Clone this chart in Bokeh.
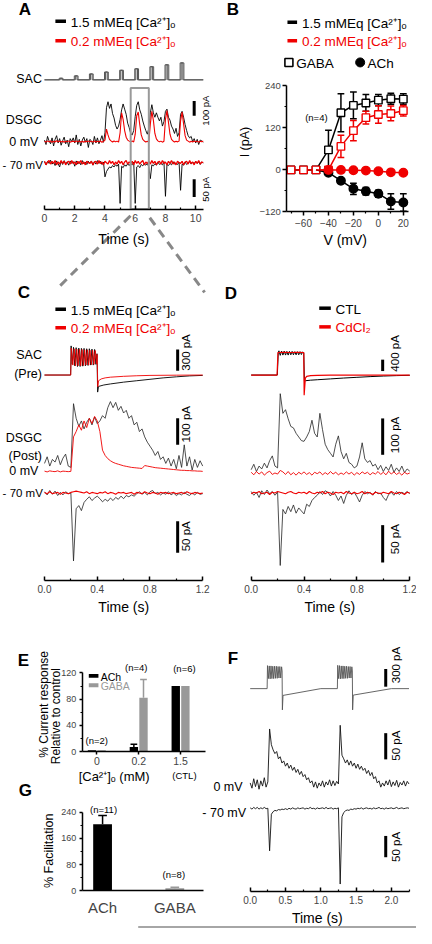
import numpy as np
from bokeh.plotting import figure
from bokeh.models import Range1d, LinearAxis, FixedTicker, Label, PrintfTickFormatter
from bokeh.embed import file_html
from bokeh.resources import INLINE

# ======================= DATA =======================
# ---- Panel A : 0-10.5 s, sampled every 0.1 s (pA) ----
A_pulse_times = [1, 2, 3, 4, 5, 6, 7, 8, 9]
A_sac_amp = [55, 135, 200, 265, 325, 375, 445, 510, 575]
A_0mV_ctl = [10, -20, 35, 5, -15, 25, -30, 15, 40, -10,
             20, -25, 5, 30, -15, 10, -35, 20, 0, 25,
             -10, 45, -20, 15, -30, 10, 30, -5, 20, -40,
             15, 5, -20, 35, -10, 25, -15, 10, 40, -5,
             60, 230, 270, 225, 255, 190, 160, 110, 85, 105,
             150, 215, 255, 220, 185, 125, 95, 55, 45, 75,
             170, 245, 270, 215, 185, 140, 105, 75, 50, 90,
             195, 250, 195, 165, 195, 165, 140, 165, 105, 135,
             205, 220, 165, 145, 105, 85, 55, 90, 35, 60,
             185, 205, 165, 115, 75, 40, 25, 35, 0, 20,
             -10, 15, -20, 10, 5, -5]
A_0mV_low = [3, -4, 5, -2, 4, -5, 2, -3, 6, -1,
             4, -3, 2, -5, 3, -2, 5, -4, 1, 3,
             -3, 5, -2, 4, -4, 2, -5, 3, -1, 4,
             -2, 3, -4, 5, -3, 2, -1, 4, -5, 2,
             10, 85, 45, 15, 5, -3, 4, -2, 3, -4,
             60, 195, 150, 75, 30, 10, 3, -2, 4, -3,
             50, 175, 200, 115, 45, 15, 4, -3, 2, -4,
             120, 205, 145, 55, 18, 5, -2, 3, -4, 2,
             150, 210, 130, 50, 15, 4, -3, 2, -2, 3,
             140, 200, 120, 40, 10, 3, -4, 2, -3, 4,
             -2, 3, -4, 2, -1, 3]
A_70mV_ctl = [3, -6, 4, -2, 7, -4, 2, -8, 5, -3,
              -12, 4, -5, 6, -3, 2, -7, 5, -2, 3,
              -10, 5, -4, 3, -6, 6, -3, 2, -5, 4,
              -2, 5, -7, 3, -4, 6, -2, 4, -5, 2,
              -40, -25, -18, -12, -15, -8, -12, -6, -10, -4,
              -115, -10, -14, -6, -10, -3, -8, -2, -6, 2,
              -115, -12, -8, -14, -5, -9, -3, -7, -2, -12,
              -45, -6, -9, -3, -7, 2, -5, -2, -6, 3,
              -95, -5, -8, -2, -6, 3, -4, -1, -5, 2,
              -78, -4, -7, 2, -5, -1, 3, -4, 2, -3,
              4, -2, 3, -5, 2, -1]
A_70mV_low = [4, -6, 2, 6, -4, 4, -2, 6, -6, 2,
              -4, 6, -2, 4, -6, 2, 4, -4, 6, -2,
              2, -6, 4, -2, 6, -4, 2, -6, 4, 0,
              -2, 4, -6, 2, 4, -4, 6, -2, 2, -6,
              4, 0, -4, 6, -2, 4, -6, 2, -4, 6,
              -2, 4, -6, 2, 6, -4, 2, -2, 4, -6,
              6, -2, 4, -4, 2, 6, -6, 2, -2, 4,
              -4, 6, -2, 4, -6, 2, 4, -4, 6, -2,
              2, -6, 4, -2, 6, -4, 2, -6, 4, 0,
              -2, 4, -6, 2, 4, -4, 6, -2, 2, -6,
              4, -2, 6, -4, 2, 0]
A_zoom_window = [5.7, 6.9]

# ---- Panel B : I-V relations ----
B_V = [-70, -60, -50, -40, -30, -20, -10, 0, 10, 20]
B_gaba_ctl = [0, 0, 0, 57, 163, 184, 191, 199, 203, 202]
B_gaba_ctl_err = [0, 0, 0, 56, 54, 38, 24, 16, 16, 15]
B_gaba_low = [0, 0, 0, 0, 67, 112, 149, 158, 161, 169]
B_gaba_low_err = [0, 0, 0, 0, 32, 29, 18, 25, 21, 15]
B_ach_V = [-50, -40, -30, -20, -10, 0, 10, 20]
B_ach_ctl = [0, -8, -31, -54, -61, -68, -90, -93]
B_ach_ctl_err = [0, 5, 6, 16, 11, 10, 22, 25]
B_ach_low = [0, 0, 0, -1, -2, -4, -7, -8]
B_ach_low_err = [0, 2, 2, 2, 2, 2, 2, 3]

# ---- Panel C : 0-1.2 s, DSGC sampled every 0.02 s ----
C_sac_t_ctl = [0.0, 0.198, 0.202, 0.21, 0.22, 0.23, 0.24, 0.25, 0.26, 0.27, 0.28, 0.29, 0.30,
               0.31, 0.32, 0.33, 0.34, 0.35, 0.36, 0.37, 0.38, 0.39, 0.398, 0.403,
               0.41, 0.45, 0.5, 0.6, 0.7, 0.8, 0.9, 1.0, 1.1, 1.2]
C_sac_v_ctl = [0, 0, 410, 150, 390, 130, 385, 120, 380, 120, 375, 125, 375, 130, 370, 135,
               370, 140, 365, 140, 360, 150, 300, -240,
               -160, -140, -125, -100, -80, -60, -40, -25, -12, -5]
C_sac_t_low = [0.0, 0.199, 0.203, 0.215, 0.225, 0.235, 0.245, 0.255, 0.265, 0.275, 0.285,
               0.295, 0.305, 0.315, 0.325, 0.335, 0.345, 0.355, 0.365, 0.375, 0.385, 0.395,
               0.399, 0.404, 0.41, 0.43, 0.46, 0.5, 0.6, 0.7, 0.8, 1.0, 1.2]
C_sac_v_low = [0, 0, 380, 140, 370, 130, 365, 130, 360, 130, 360, 135, 355, 140, 355, 140,
               350, 145, 350, 150, 345, 155,
               290, -165, -80, -55, -40, -30, -18, -10, -5, -2, 0]
C_0mV_ctl = [30, 55, 20, 45, 35, 60, 25, 50, 65, 20,
             15, 255, 200, 170, 190, 160, 185, 200, 175, 205,
             180, 190, 210, 200, 240, 263, 240, 260, 230, 245,
             220, 230, 200, 210, 175, 185, 150, 160, 130, 110,
             95, 80, 60, 75, 45, 55, 30, 50, 20, 45,
             10, 60, 15, 100, 20, 55, 5, 45, 15, 40, 20]
C_0mV_low = [1, -2, 2, 0, -1, 2, -2, 1, 0, -1,
             0, 130, 150, 175, 155, 190, 165, 200, 180, 207,
             190, 150, 80, 60, 48, 40, 34, 30, 27, 24,
             21, 19, 17, 15, 14, 13, 12, 11, 22, 20,
             18, 16, 14, 13, 12, 11, 10, 9, 8, 7,
             6, 5, 4, 4, 3, 3, 2, 2, 1, 1, 0]
C_70mV_ctl = [2, -3, 4, -2, 3, -4, 1, -3, 2, -1,
              0, -108, -25, -20, -28, -15, -10, -6, -12, -8,
              -5, -9, -14, -10, -13, -8, -12, -7, -10, -5,
              -9, -4, -6, -3, -5, -1, 2, -2, 1, -3,
              2, 4, -1, 1, -3, 0, -2, 2, -3, 0,
              -4, -1, -3, 1, -2, -4, 0, -3, 1, -2, -1]
C_70mV_low = [1, -1, 2, -1, 0, 1, -2, 1, 0, -1,
              1, 2, 3, 2, 1, 0, 2, -1, 1, 0,
              -1, 1, 0, 2, -1, 1, 0, -2, 1, 0,
              1, -1, 0, 1, -2, 1, 0, -1, 2, 0,
              -1, 1, 0, -2, 1, 0, 1, -1, 0, 1,
              -1, 0, 1, -1, 2, 0, -1, 1, 0, -1, 0]

# ---- Panel D : control vs CdCl2 ----
D_sac_t_ctl = [0.0, 0.198, 0.205, 0.21, 0.22, 0.23, 0.24, 0.25, 0.26, 0.27, 0.28, 0.29, 0.30,
               0.31, 0.32, 0.33, 0.34, 0.35, 0.36, 0.37, 0.38, 0.39, 0.398, 0.403,
               0.41, 0.45, 0.5, 0.6, 0.7, 0.8, 0.9, 1.0, 1.1, 1.2]
D_sac_v_ctl = [0, 0, 780, 850, 690, 840, 700, 840, 700, 830, 700, 830, 710, 830, 710, 820,
               710, 820, 710, 820, 720, 810, 780, -220,
               -200, -180, -165, -135, -105, -80, -55, -35, -20, -10]
D_sac_t_cd = [0.0, 0.196, 0.203, 0.25, 0.3, 0.35, 0.398, 0.401, 0.41, 0.42, 0.45, 0.5, 0.6, 0.8, 1.2]
D_sac_v_cd = [0, 0, 790, 800, 790, 800, 790, -710, -110, -45, -20, -10, -5, -2, 0]
D_0mV_ctl = [10, 25, 5, 20, 12, 28, 15, 35, 48, 20,
             15, 219, 165, 175, 150, 129, 125, 110, 100, 90,
             88, 100, 115, 146, 110, 100, 165, 120, 80, 65,
             55, 45, 80, 103, 60, 40, 55, 30, 25, 15,
             20, 45, 84, 40, 30, 35, 20, 25, 10, 22,
             5, 18, 8, 25, 3, 15, 5, 20, 2, 12, 6]
D_0mV_cd = [3, -4, 5, -2, 4, -5, 2, 6, -3, 1,
            -2, 8, 4, -3, 5, -4, 2, -5, 3, -2,
            4, -3, 2, -5, 3, -1, 4, -4, 2, -3,
            5, -2, 3, -4, 1, -3, 4, -2, 3, -5,
            2, -3, 4, -1, 3, -4, 2, -2, 5, -3,
            3, -4, 6, -2, 4, -3, 2, -5, 3, -2, 1]
D_70mV_ctl = [2, -3, 1, -6, 3, -2, 4, -1, 2, -3,
              1, -97, -22, -28, -18, -25, -16, -27, -20, -24,
              -28, -15, -18, -10, -6, -3, 2, -2, 3, 1,
              -4, 2, -3, -10, -4, -14, -3, 3, -2, 1,
              -5, -12, -3, 2, -1, 1, -3, 2, -1, 0,
              -6, -10, -2, 1, -3, 2, -2, 1, -1, 2, -1]
D_70mV_cd = [-1, 1, 0, 2, -1, 0, 1, -2, 1, 0,
             2, 1, 0, -1, 1, 2, 0, -1, 1, 0,
             1, -1, 2, 0, -1, 1, 0, 2, -1, 1,
             0, -2, 1, 0, 1, -1, 2, 0, -1, 1,
             -1, 0, 2, -1, 1, 0, -2, 1, 0, -1,
             1, 0, -1, 2, 0, -1, 1, 0, -2, 1, 0]

# ---- Panel E : % current response relative to control ----
E_conc_labels = ["0", "0.2", "1.5"]
E_ach = [2, 7, 100]
E_ach_err = [0, 4, 0]
E_gaba = [2, 82, 100]
E_gaba_err = [0, 28, 0]
E_n = ["(n=2)", "(n=4)", "(n=6)"]

# ---- Panel G : % facilitation ----
G_labels = ["ACh", "GABA"]
G_fac = [203, 8]
G_err = [27, 3]
G_n = ["(n=11)", "(n=8)"]

# ---- Panel F : paired stimulation, 0-2.25 s, DSGC sampled every 0.025 s ----
F_sac_t = [0.0, 0.24, 0.245, 0.2575, 0.27, 0.2825, 0.295, 0.3075, 0.32, 0.3325, 0.345, 0.3575,
           0.37, 0.3825, 0.395, 0.4075, 0.42, 0.4325, 0.445, 0.452, 0.456, 0.465, 1.0,
           1.235, 1.24, 1.2525, 1.265, 1.2775, 1.29, 1.3025, 1.315, 1.3275, 1.34, 1.3525,
           1.365, 1.3775, 1.39, 1.4025, 1.415, 1.4275, 1.44, 1.447, 1.451, 1.46, 2.0, 2.25]
F_sac_v = [0, 0, 390, 170, 385, 165, 385, 170, 380, 170, 380, 175, 380, 175, 375, 180, 375,
           180, 370, 300, -360, -115, 0,
           0, 395, 170, 390, 165, 385, 170, 385, 170, 380, 175, 380, 175, 375, 180, 375,
           180, 370, 300, -360, -110, 0, 0]
F_0mV = [2, -8, 10, -5, 8, -10, 6, -4, 12, -6,
         4, 105, 75, 65, 58, 62, 48, 52, 40, 44,
         34, 40, 30, 36, 26, 32, 22, 28, 18, 24,
         14, 18, 8, 12, 2, 6, -6, 4, -8, 2,
         -4, 6, -6, 4, -2, 8, -4, 6, -3, 5,
         0, 112, 55, 48, 40, 46, 36, 44, 34, 40,
         30, 38, 28, 34, 26, 30, 20, 26, 16, 22,
         10, 14, 2, 6, -6, 2, -4, 6, -2, 8,
         -5, 4, -3, 7, -6, 3, -2, 6, -4, 5, 0]
F_70mV = [1, -2, 2, -1, 2, -2, 1, -1, 2, -1,
          0, -100, -14, -8, -5, -6, -3, -4, -2, -3,
          -1, -3, 0, -2, 1, -1, -2, 1, -1, 0,
          1, -2, 0, -1, 2, -1, 0, -2, 1, -1,
          0, 1, -1, 2, -1, 0, 1, -2, 0, -1,
          1, -178, -20, -10, -6, -4, -5, -2, -3, -1,
          -2, 0, -1, 1, -2, 0, 1, -1, 0, -2,
          1, -1, 0, 2, -1, 0, -2, 1, -1, 0,
          1, -1, 0, 2, -1, 0, 1, -1, 0, 1, 0]

# ======================= FIGURE =======================
PAGE_W, PAGE_H = 432, 944
FONT = "Liberation Sans"
RED = "#f00000"
GRAY = "#999999"
DGRAY = "#555555"
LEG = 13.5   # legend font size
TRL = 12.5   # trace label font size

p = figure(width=416, height=928, x_range=Range1d(0, PAGE_W), y_range=Range1d(PAGE_H, 0),
           x_axis_type=None, y_axis_type=None, output_backend="svg",
           toolbar_location=None, min_border=0)
p.outline_line_color = None
p.background_fill_color = "white"
p.border_fill_color = "white"

xr, yr = {}, {}


def x_map(name, px0, sx):
    xr[name] = Range1d(-px0 / sx, (PAGE_W - px0) / sx)


def y_map(name, base, sy):
    yr[name] = Range1d((base - PAGE_H) / sy, base / sy)


# panel coordinate systems
x_map("A_x", 45.7, 15.7)
y_map("A_sac", 80.7, 0.03)
y_map("A_0", 143.5, 0.15)
y_map("A_70", 165.0, 0.36)
x_map("B_x", 392.4, 1.296)
y_map("B_y", 172.3, 0.3565)
x_map("C_x", 45.7, 136.9)
y_map("C_sac", 381.0, 0.0723)
y_map("C_0", 479.0, 0.27)
y_map("C_70", 501.0, 0.64)
x_map("D_x", 260.3, 137.25)
y_map("D_sac", 381.0, 0.029)
y_map("D_0", 481.0, 0.37)
y_map("D_70", 501.0, 0.76)
x_map("E_x", 100.0, 43.5)
y_map("E_y", 764.0, 0.6667)
x_map("G_x", 106.0, 75.0)
y_map("G_y", 905.7, 0.3333)
x_map("F_x", 259.3, 73.3)
y_map("F_sac", 700.0, 0.06)
y_map("F_0", 797.0, 0.533)
y_map("F_70", 821.7, 0.433)
p.extra_x_ranges = xr
p.extra_y_ranges = yr


def label(x, y, s, size=TRL, color="black", align="left", angle=0.0, bold=False):
    p.add_layout(Label(x=x, y=y, text=s, text_font=FONT, text_font_size=f"{size}px",
                       text_color=color, text_align=align, text_baseline="middle",
                       angle=angle, text_font_style="bold" if bold else "normal"))


def style_axis(ax, inward, maj, mnr, size, standoff):
    maj, mnr = int(maj), int(mnr)
    if inward:
        ax.major_tick_in, ax.major_tick_out, ax.minor_tick_in, ax.minor_tick_out = maj, 0, mnr, 0
    else:
        ax.major_tick_in, ax.major_tick_out, ax.minor_tick_in, ax.minor_tick_out = 0, maj, 0, mnr
    ax.axis_line_width = 1.5
    ax.major_tick_line_width = 1.5
    ax.minor_tick_line_width = 1.2
    ax.major_label_text_font = FONT
    ax.major_label_text_font_size = size
    ax.major_label_standoff = int(standoff)


def add_xaxis(xname, ypos, bounds, ticks, minor, inward=True, fmt=None, overrides=None,
              size="10px", maj=4, mnr=2, standoff=3):
    ax = LinearAxis(x_range_name=xname, fixed_location=ypos, bounds=bounds,
                    ticker=FixedTicker(ticks=ticks, minor_ticks=minor))
    style_axis(ax, inward, maj, mnr, size, standoff)
    if fmt:
        ax.formatter = PrintfTickFormatter(format=fmt)
    if overrides:
        ax.major_label_overrides = overrides
    p.add_layout(ax, "below")


def add_yaxis(yname, xpos, bounds, ticks, minor, size="9px", maj=4, mnr=2, standoff=3):
    ax = LinearAxis(y_range_name=yname, fixed_location=xpos, bounds=bounds,
                    ticker=FixedTicker(ticks=ticks, minor_ticks=minor))
    style_axis(ax, False, maj, mnr, size, standoff)
    p.add_layout(ax, "left")


def trace(t, v, xn, yn, color, lw=0.9):
    p.line(list(t), list(v), x_range_name=xn, y_range_name=yn, line_color=color, line_width=lw)


def grid(values, dt):
    return np.round(np.arange(len(values)) * dt, 4)


def scalebar(xn, yn, t, lo, hi):
    p.line([t, t], [lo, hi], x_range_name=xn, y_range_name=yn, line_color="black", line_width=3)


def pulse_train(times, amps, t_on, t_off, t_end):
    t, v = [0.0], [0.0]
    for tm, a in zip(times, amps):
        t += [tm + t_on, tm + t_on, tm + t_off, tm + t_off]
        v += [0, a, a, 0]
    t.append(t_end)
    v.append(0)
    return t, v


# ---------------- Panel A ----------------
label(19, 9, "A", size=17, bold=True)
p.line([57, 68], [21, 21], line_color="black", line_width=3.5)
p.line([57, 68], [41, 41], line_color=RED, line_width=3.5)
label(73, 22, "1.5 mMEq [Ca²⁺]ₒ", size=LEG)
label(73, 42, "0.2 mMEq [Ca²⁺]ₒ", size=LEG, color=RED)
label(43, 80, "SAC", align="right")
label(43, 122, "DSGC", align="right")
label(43, 143.5, "0  mV", align="right")
label(44, 167, "- 70 mV", size=11.5, align="right")

st, sv = pulse_train(A_pulse_times, A_sac_amp, -0.03, 0.15, 10.5)
trace(st, sv, "A_x", "A_sac", DGRAY, 1)
st2, sv2 = pulse_train(A_pulse_times, A_sac_amp, 0.04, 0.22, 10.5)
trace(st2, sv2, "A_x", "A_sac", DGRAY, 1)
trace(grid(A_0mV_ctl, 0.1), A_0mV_ctl, "A_x", "A_0", "black", 0.9)
trace(grid(A_0mV_low, 0.1), A_0mV_low, "A_x", "A_0", RED, 1.1)
trace(grid(A_70mV_ctl, 0.1), A_70mV_ctl, "A_x", "A_70", "black", 0.9)
trace(grid(A_70mV_low, 0.1), A_70mV_low, "A_x", "A_70", RED, 1.3)
p.quad(left=[A_zoom_window[0]], right=[A_zoom_window[1]], top=[89], bottom=[212],
       x_range_name="A_x", fill_color=None, line_color=GRAY, line_width=2)
scalebar("A_x", "A_0", 9.9, 175, 275)
scalebar("A_x", "A_70", 9.9, -97, -47)
label(213, 112, "100 pA", size=9.5, align="center", angle=np.pi / 2)
label(213, 192, "50 pA", size=9.5, align="center", angle=np.pi / 2)
add_xaxis("A_x", 213, (0, 10.5), [0, 2, 4, 6, 8, 10], [1, 3, 5, 7, 9], size="10.5px", standoff=4)
label(128, 243, "Time (s)", size=14, align="center")

# zoom connectors
p.line([135, 60], [219, 292], line_color="#888888", line_width=3, line_dash="9 6")
p.line([155, 212], [221, 297], line_color="#888888", line_width=3, line_dash="9 6")

# ---------------- Panel B ----------------
label(235, 9, "B", size=17, bold=True)
p.line([298, 308], [22, 22], line_color="black", line_width=3.5)
p.line([298, 308], [41, 41], line_color=RED, line_width=3.5)
label(313, 23, "1.5 mMEq [Ca²⁺]ₒ", size=LEG)
label(313, 42, "0.2 mMEq [Ca²⁺]ₒ", size=LEG, color=RED)
p.scatter([299.5], [63], marker="square", size=8, fill_color="white", line_color="black", line_width=1.6)
label(307, 64, "GABA", size=LEG)
p.scatter([373.5], [63], marker="circle", size=9, fill_color="black", line_color="black")
label(381, 64, "ACh", size=LEG)


def iv_series(V, I, err, color, marker, fill, idx_from=0):
    V = np.array(V, float)
    I = np.array(I, float)
    err = np.array(err, float)
    m = err > 0
    p.segment(V[m], I[m] - err[m], V[m], I[m] + err[m], x_range_name="B_x", y_range_name="B_y",
              line_color=color, line_width=1.5)
    for sgn in (1, -1):
        p.segment(V[m] - 2.7, I[m] + sgn * err[m], V[m] + 2.7, I[m] + sgn * err[m],
                  x_range_name="B_x", y_range_name="B_y", line_color=color, line_width=1.5)
    p.line(V, I, x_range_name="B_x", y_range_name="B_y", line_color=color, line_width=1.5)
    p.scatter(V[idx_from:], I[idx_from:], marker=marker, size=7.5 if marker == "square" else 8.5,
              fill_color=fill, line_color=color, line_width=1.4,
              x_range_name="B_x", y_range_name="B_y")


iv_series(B_V, B_gaba_ctl, B_gaba_ctl_err, "black", "square", "white")
iv_series(B_V, B_gaba_low, B_gaba_low_err, RED, "square", "white")
iv_series(B_ach_V, B_ach_ctl, B_ach_ctl_err, "black", "circle", "black", idx_from=1)
iv_series(B_ach_V, B_ach_low, B_ach_low_err, RED, "circle", RED, idx_from=1)
add_xaxis("B_x", 215, (-73.4, 23.8), [-60, -40, -20, 0, 20], [-70, -50, -30, -10, 10],
          inward=False, size="10px", maj=4, mnr=2, standoff=3)
add_yaxis("B_y", 297.3, (-120, 240), [-120, 0, 120, 240], [-60, 60, 180], size="9.5px",
          maj=4, mnr=2, standoff=2)
label(328, 119, "(n=4)", size=9.5, align="center")
label(254, 144, "I (pA)", size=12.5, align="center", angle=np.pi / 2)
label(358, 244, "V (mV)", size=14, align="center")

# ---------------- Panel C ----------------
label(18, 297, "C", size=17, bold=True)
p.line([57, 68], [314, 314], line_color="black", line_width=3.5)
p.line([57, 68], [333, 333], line_color=RED, line_width=3.5)
label(73, 315, "1.5 mMEq [Ca²⁺]ₒ", size=LEG)
label(73, 334, "0.2 mMEq [Ca²⁺]ₒ", size=LEG, color=RED)
label(43, 361, "SAC", align="right")
label(43, 380, "(Pre)", align="right")
label(43, 445, "DSGC", align="right")
label(43, 463, "(Post)", align="right")
label(43, 479, "0  mV", align="right")
label(44, 501, "- 70 mV", size=11.5, align="right")
trace(C_sac_t_ctl, C_sac_v_ctl, "C_x", "C_sac", "black", 0.9)
trace(C_sac_t_low, C_sac_v_low, "C_x", "C_sac", RED, 0.9)
trace(grid(C_0mV_ctl, 0.02), C_0mV_ctl, "C_x", "C_0", "#222222", 0.8)
trace(grid(C_0mV_low, 0.02), C_0mV_low, "C_x", "C_0", RED, 0.9)
trace(grid(C_70mV_ctl, 0.02), C_70mV_ctl, "C_x", "C_70", "#222222", 0.8)
trace(grid(C_70mV_low, 0.02), C_70mV_low, "C_x", "C_70", RED, 1.1)
scalebar("C_x", "C_sac", 1.01, 60, 360)
scalebar("C_x", "C_0", 1.01, 100, 200)
scalebar("C_x", "C_70", 1.01, -95, -45)
label(193, 358, "300 pA", size=11.5, align="center", angle=np.pi / 2)
label(193, 431, "100 pA", size=11.5, align="center", angle=np.pi / 2)
label(193, 545, "50 pA", size=11.5, align="center", angle=np.pi / 2)
add_xaxis("C_x", 590, (0, 1.2), [0, 0.4, 0.8, 1.2], [0.2, 0.6, 1.0], fmt="%.1f", size="10px",
          standoff=4)
label(128, 617, "Time (s)", size=14, align="center")

# ---------------- Panel D ----------------
label(233, 298, "D", size=17, bold=True)
p.line([331, 343], [313, 313], line_color="black", line_width=3.5)
p.line([331, 343], [332, 332], line_color=RED, line_width=3.5)
label(348, 314, "CTL", size=LEG)
label(348, 333, "CdCl₂", size=LEG, color=RED)
trace(D_sac_t_ctl, D_sac_v_ctl, "D_x", "D_sac", "black", 1.0)
trace(D_sac_t_cd, D_sac_v_cd, "D_x", "D_sac", RED, 1.2)
trace(grid(D_0mV_ctl, 0.02), D_0mV_ctl, "D_x", "D_0", "#222222", 0.8)
trace(grid(D_0mV_cd, 0.02), D_0mV_cd, "D_x", "D_0", RED, 0.9)
trace(grid(D_70mV_ctl, 0.02), D_70mV_ctl, "D_x", "D_70", "#222222", 0.8)
trace(grid(D_70mV_cd, 0.02), D_70mV_cd, "D_x", "D_70", RED, 1.1)
scalebar("D_x", "D_sac", 0.995, 140, 540)
scalebar("D_x", "D_0", 0.995, 51, 151)
scalebar("D_x", "D_70", 0.995, -93, -43)
label(410, 359, "400 pA", size=11.5, align="center", angle=np.pi / 2)
label(410, 442, "100 pA", size=11.5, align="center", angle=np.pi / 2)
label(410, 548, "50 pA", size=11.5, align="center", angle=np.pi / 2)
add_xaxis("D_x", 590, (0, 1.2), [0, 0.4, 0.8, 1.2], [0.2, 0.6, 1.0], fmt="%.1f", size="10px",
          standoff=4)
label(342, 617, "Time (s)", size=14, align="center")

# ---------------- Panel E ----------------
label(18, 671, "E", size=17, bold=True)
ex = np.arange(len(E_ach), dtype=float)
p.vbar(x=ex - 0.115, top=E_ach, width=0.2, bottom=0, x_range_name="E_x", y_range_name="E_y",
       fill_color="black", line_color=None)
p.vbar(x=ex + 0.115, top=E_gaba, width=0.2, bottom=0, x_range_name="E_x", y_range_name="E_y",
       fill_color=GRAY, line_color=None)
for xs, tops, errs, col in ((ex - 0.115, E_ach, E_ach_err, "black"), (ex + 0.115, E_gaba, E_gaba_err, GRAY)):
    for xx, tp, er in zip(xs, tops, errs):
        if er > 0:
            p.segment([xx], [tp], [xx], [tp + er], x_range_name="E_x", y_range_name="E_y",
                      line_color=col, line_width=1.5)
            p.segment([xx - 0.08], [tp + er], [xx + 0.08], [tp + er], x_range_name="E_x",
                      y_range_name="E_y", line_color=col, line_width=1.5)
add_yaxis("E_y", 85, (0, 120), [0, 40, 80, 120], [20, 60, 100], size="9px", maj=3, mnr=2)
add_xaxis("E_x", 764, (-0.345, 2.6), [0, 1, 2], [], inward=False,
          overrides={i: s for i, s in enumerate(E_conc_labels)}, size="10.5px", maj=3, standoff=2)
p.quad(left=[91.7], right=[101.7], top=[685], bottom=[689], fill_color="black", line_color=None)
p.quad(left=[91.7], right=[101.7], top=[694.5], bottom=[698.5], fill_color=GRAY, line_color=None)
label(104, 688, "ACh", size=10.5)
label(104, 697.5, "GABA", size=10.5, color=GRAY)
for xpos, ypix, s in zip([100, 141, 191], [753, 679, 680], E_n):
    label(xpos, ypix, s, size=9.5, align="center")
label(45, 716, "% Current response", size=12, align="center", angle=np.pi / 2)
label(58, 728, "Relative to control", size=12, align="center", angle=np.pi / 2)
label(118, 789, "[Ca²⁺]ₒ (mM)", size=13, align="center")
label(191, 788, "(CTL)", size=9.5, align="center")

# ---------------- Panel G ----------------
label(19, 804, "G", size=17, bold=True)
gx = np.arange(len(G_fac), dtype=float)
p.vbar(x=gx, top=G_fac, width=0.26, bottom=0, x_range_name="G_x", y_range_name="G_y",
       fill_color=["black", GRAY], line_color=None)
for xx, tp, er, col in zip(gx, G_fac, G_err, ["black", GRAY]):
    p.segment([xx], [tp], [xx], [tp + er], x_range_name="G_x", y_range_name="G_y",
              line_color=col, line_width=1.5)
    p.segment([xx - 0.06], [tp + er], [xx + 0.06], [tp + er], x_range_name="G_x",
              y_range_name="G_y", line_color=col, line_width=1.5)
add_yaxis("G_y", 85, (0, 240), [0, 80, 160, 240], [40, 120, 200], size="9px", maj=3, mnr=2)
add_xaxis("G_x", 905.7, (-0.28, 1.4), [0, 1], [], inward=False,
          overrides={i: s for i, s in enumerate(G_labels)}, size="15px", maj=0, mnr=0, standoff=8)
for xpos, ypix, s in zip([107, 180], [823, 889], G_n):
    label(xpos, ypix, s, size=9.5, align="center")
label(50, 865, "% Facilitation", size=12.5, align="center", angle=np.pi / 2)

# ---------------- Panel F ----------------
label(236, 669, "F", size=17, bold=True)
trace(F_sac_t, F_sac_v, "F_x", "F_sac", DGRAY, 0.9)
trace(grid(F_0mV, 0.025), F_0mV, "F_x", "F_0", "#111111", 0.9)
trace(grid(F_70mV, 0.025), F_70mV, "F_x", "F_70", "#111111", 0.9)
scalebar("F_x", "F_sac", 1.92, 33, 333)
scalebar("F_x", "F_0", 1.92, 47, 97)
scalebar("F_x", "F_70", 1.92, -115, -65)
label(411, 676, "300 pA", size=11.5, align="center", angle=np.pi / 2)
label(411, 758, "50 pA", size=11.5, align="center", angle=np.pi / 2)
label(411, 861, "50 pA", size=11.5, align="center", angle=np.pi / 2)
label(255, 800, "0  mV", align="right")
label(255, 827, "- 70 mV", align="right")
add_xaxis("F_x", 906.7, (0, 2.25), [0, 0.5, 1.0, 1.5, 2.0], [0.25, 0.75, 1.25, 1.75, 2.25],
          fmt="%.1f", size="10px", standoff=4)
label(329, 933, "Time (s)", size=14, align="center")
p.line([143, 432], [942.5, 942.5], line_color="#888888", line_width=1.5)

open("out.html", "w").write(file_html(p, INLINE, title="Figure"))
